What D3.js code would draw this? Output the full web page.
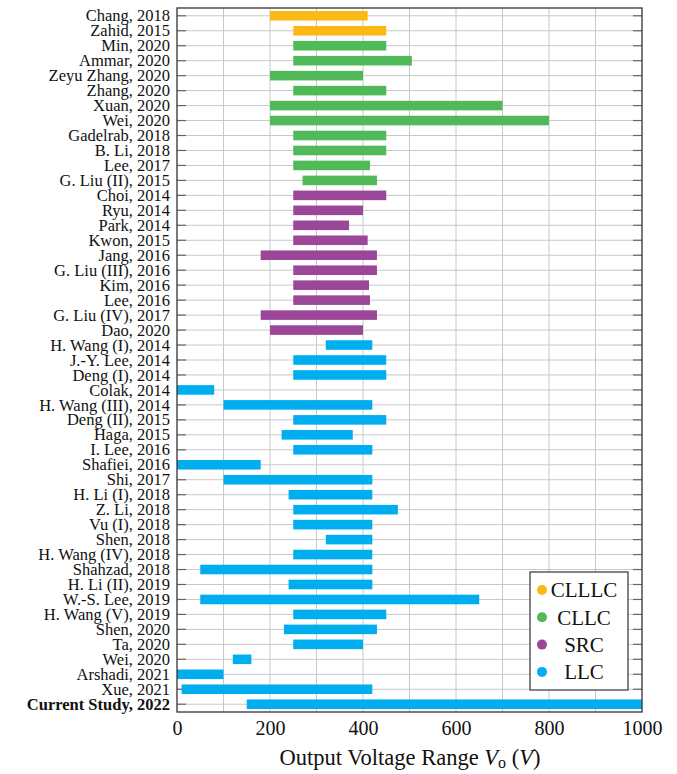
<!DOCTYPE html>
<html><head><meta charset="utf-8">
<script src="https://cdn.jsdelivr.net/npm/d3@7/dist/d3.min.js"></script>
<style>body{margin:0;background:#fff}svg{display:block}text{font-family:"Liberation Serif","DejaVu Serif",serif;fill:#111}</style>
</head><body><svg id="c" width="677" height="774"></svg>
<script>
const labels = ["Chang, 2018","Zahid, 2015","Min, 2020","Ammar, 2020","Zeyu Zhang, 2020","Zhang, 2020","Xuan, 2020","Wei, 2020","Gadelrab, 2018","B. Li, 2018","Lee, 2017","G. Liu (II), 2015","Choi, 2014","Ryu, 2014","Park, 2014","Kwon, 2015","Jang, 2016","G. Liu (III), 2016","Kim, 2016","Lee, 2016","G. Liu (IV), 2017","Dao, 2020","H. Wang (I), 2014","J.-Y. Lee, 2014","Deng (I), 2014","Colak, 2014","H. Wang (III), 2014","Deng (II), 2015","Haga, 2015","I. Lee, 2016","Shafiei, 2016","Shi, 2017","H. Li (I), 2018","Z. Li, 2018","Vu (I), 2018","Shen, 2018","H. Wang (IV), 2018","Shahzad, 2018","H. Li (II), 2019","W.-S. Lee, 2019","H. Wang (V), 2019","Shen, 2020","Ta, 2020","Wei, 2020","Arshadi, 2021","Xue, 2021","Current Study, 2022"];
const vMin = [200,250,250,250,200,250,200,200,250,250,250,270,250,250,250,250,180,250,250,250,180,200,320,250,250,0,100,250,225,250,0,100,240,250,250,320,250,50,240,50,250,230,250,120,0,10,150];
const vMax = [410,450,450,505,400,450,700,800,450,450,415,430,450,400,370,410,430,430,413,415,430,400,420,450,450,80,420,450,378,420,180,420,420,475,420,420,420,420,420,650,450,430,400,160,100,420,1000];
const topology = ["CLLLC","CLLLC","CLLC","CLLC","CLLC","CLLC","CLLC","CLLC","CLLC","CLLC","CLLC","CLLC","SRC","SRC","SRC","SRC","SRC","SRC","SRC","SRC","SRC","SRC","LLC","LLC","LLC","LLC","LLC","LLC","LLC","LLC","LLC","LLC","LLC","LLC","LLC","LLC","LLC","LLC","LLC","LLC","LLC","LLC","LLC","LLC","LLC","LLC","LLC"];
const categories = ["CLLLC","CLLC","SRC","LLC"];
const colors = ["#FDB913","#50B958","#9B4797","#00AEEF"];
const xTicks = [0,200,400,600,800,1000];
const xGrid = [100,200,300,400,500,600,700,800,900];

const svg = d3.select("#c");
const L=177,R=642,T=8,B=712;
const x = d3.scaleLinear().domain([0,1000]).range([L,R]);
const idx = d3.range(labels.length);
const y = d3.scaleBand().domain(idx).range([T,B]).paddingInner(0.36).paddingOuter(0.2);
const col = d3.scaleOrdinal().domain(categories).range(colors);
const yc = i => y(i)+y.bandwidth()/2;

const g = svg.append("g");
g.selectAll("line.vg").data(xGrid).join("line")
 .attr("x1",d=>x(d)).attr("x2",d=>x(d)).attr("y1",T).attr("y2",B)
 .attr("stroke","#c8c8c8").attr("stroke-width",1);
g.selectAll("line.hg").data(idx).join("line")
 .attr("x1",L).attr("x2",R).attr("y1",yc).attr("y2",yc)
 .attr("stroke","#c8c8c8").attr("stroke-width",1);
g.selectAll("line.tl").data(idx).join("line")
 .attr("x1",L).attr("x2",L+9).attr("y1",yc).attr("y2",yc).attr("stroke","#666").attr("stroke-width",1.2);
g.selectAll("line.tr").data(idx).join("line")
 .attr("x1",R-9).attr("x2",R).attr("y1",yc).attr("y2",yc).attr("stroke","#666").attr("stroke-width",1.2);
g.selectAll("rect.bar").data(idx).join("rect")
 .attr("x",i=>x(vMin[i])).attr("width",i=>x(vMax[i])-x(vMin[i]))
 .attr("y",i=>y(i)).attr("height",y.bandwidth())
 .attr("fill",i=>col(topology[i]));
svg.append("rect").attr("x",L).attr("y",T).attr("width",R-L).attr("height",B-T)
 .attr("fill","none").attr("stroke","#333").attr("stroke-width",1.3);
svg.append("g").selectAll("text").data(idx).join("text")
 .attr("x",L-7).attr("y",yc).attr("dy","0.34em").attr("text-anchor","end")
 .attr("font-size",16.5).attr("font-weight",i=>i===labels.length-1?"bold":"normal")
 .text(i=>labels[i]);
const xa = svg.append("g").attr("transform",`translate(0,${B})`)
 .call(d3.axisBottom(x).tickValues(xTicks).tickSize(0).tickPadding(9).tickFormat(d3.format("d")));
xa.select(".domain").remove();
xa.selectAll("text").attr("font-size",20).attr("font-family","Liberation Serif, serif").attr("fill","#111");
const t = svg.append("text").attr("x",410).attr("y",765).attr("text-anchor","middle").attr("font-size",22.5);
t.append("tspan").text("Output Voltage Range ");
t.append("tspan").attr("font-style","italic").text("V");
t.append("tspan").attr("font-size",16).attr("dy",3).text("o");
t.append("tspan").attr("dy",-3).text(" (");
t.append("tspan").attr("font-style","italic").text("V");
t.append("tspan").text(")");
const lg = svg.append("g");
lg.append("rect").attr("x",530).attr("y",572).attr("width",98).attr("height",118)
 .attr("fill","#fff").attr("stroke","#333").attr("stroke-width",1.2);
const li = lg.selectAll("g").data(categories).join("g")
 .attr("transform",(d,i)=>`translate(0,${590+i*27.3})`);
li.append("circle").attr("cx",542).attr("cy",0).attr("r",5).attr("fill",d=>col(d));
li.append("text").attr("x",584).attr("y",0).attr("dy","0.35em").attr("text-anchor","middle")
 .attr("font-size",21).text(d=>d);
</script></body></html>
